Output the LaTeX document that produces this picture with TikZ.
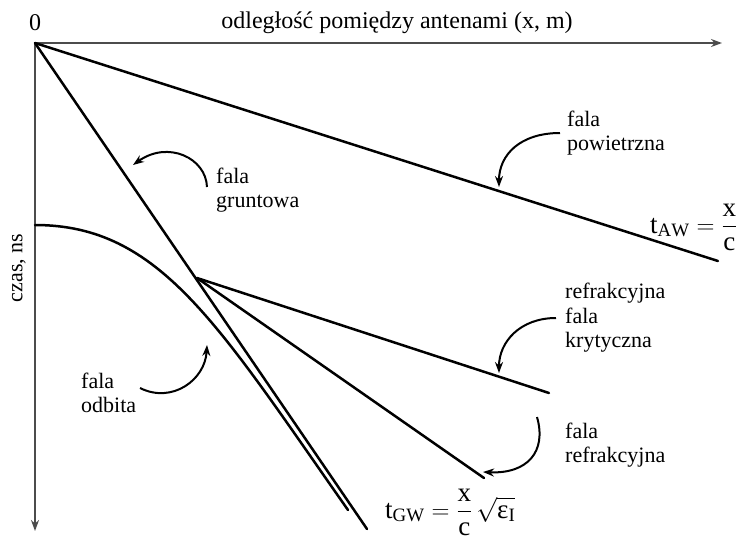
\documentclass[tikz,border=0pt]{standalone}
\usepackage{amsmath}
\usepackage{fontspec}
\setmainfont{Liberation Serif}
\usetikzlibrary{arrows.meta}

\begin{document}
\begin{tikzpicture}[x=1pt,y=-1pt,>={Stealth[length=11pt,width=8pt]},
  axis/.style={draw=black!70,line width=1.8pt},
  wave/.style={line width=2.5pt,line cap=round},
  pointer/.style={->,line width=2pt},
  txt/.style={font=\fontsize{22}{24.5}\selectfont,inner sep=0pt},
  lbl/.style={txt,align=left,anchor=west},
  eq/.style={font=\fontsize{27}{30}\selectfont,inner sep=0pt,anchor=base west}]
\useasboundingbox (0,0) rectangle (748,542);
% axes
\coordinate (O) at (35,43);
\coordinate (xend) at (722,43);
\coordinate (tend) at (35,531);
\draw[axis,->] (O) -- (xend);
\draw[axis,->] (O) -- (tend);
\node[txt,font=\fontsize{24}{26}\selectfont] (zero) at (35,23) {0};
\node[txt,font=\fontsize{24}{26}\selectfont] (xlab) at (397,23) {odległość pomiędzy antenami (x, m)};
\node[txt,rotate=90] (tlab) at (19,268) {czas, ns};

% travel-time lines
\coordinate (aw) at (718,261);
\coordinate (gw) at (367,529);
\coordinate (crit) at (197,278);
\coordinate (hw) at (549,393);
\coordinate (rw) at (484,478);
\coordinate (r0) at (35,225);
\coordinate (r1) at (348,510);
\draw[wave] (O) -- (aw);
\draw[wave] (O) -- (gw);
\draw[wave] (r0) .. controls (160,225) and (218,325) .. (r1);
\foreach \e in {hw,rw}{
  \draw[wave] (crit) -- (\e);
}

% labels
\node[lbl] (lgw) at (216,190) {fala\\gruntowa};
\node[lbl] (law) at (567,133) {fala\\powietrzna};
\node[lbl] (lhw) at (565,318) {refrakcyjna\\fala\\krytyczna};
\node[lbl] (lrw) at (565,445) {fala\\refrakcyjna};
\node[lbl] (lrf) at (81,393) {fala\\odbita};
\node[eq] (faw) at (650,233) {$\mathrm{t}_{\mathrm{AW}}=\dfrac{\mathrm{x}}{\mathrm{c}}$};
\node[eq] (fgw) at (385,518) {$\mathrm{t}_{\mathrm{GW}}=\dfrac{\mathrm{x}}{\mathrm{c}}\,\sqrt{\mbox{ε}_{\mathrm{I}}\vphantom{\mathrm{X}}}$};

% pointers
\coordinate (s1) at (207,187); \coordinate (e1) at (133,165);
\coordinate (s2) at (560,133); \coordinate (e2) at (499,187);
\coordinate (s3) at (556,318); \coordinate (e3) at (499,373);
\coordinate (s4) at (537,417); \coordinate (e4) at (483,472);
\coordinate (s5) at (140,388); \coordinate (e5) at (207,345);
\draw[pointer] (s1) .. controls (206,158) and (168,140) .. (e1);
\draw[pointer] (s2) .. controls (520,133) and (499,155) .. (e2);
\draw[pointer] (s3) .. controls (520,318) and (499,342) .. (e3);
\draw[pointer] (s4) .. controls (547,452) and (527,474) .. (e4);
\draw[pointer] (s5) .. controls (172,404) and (205,380) .. (e5);
\end{tikzpicture}
\end{document}
